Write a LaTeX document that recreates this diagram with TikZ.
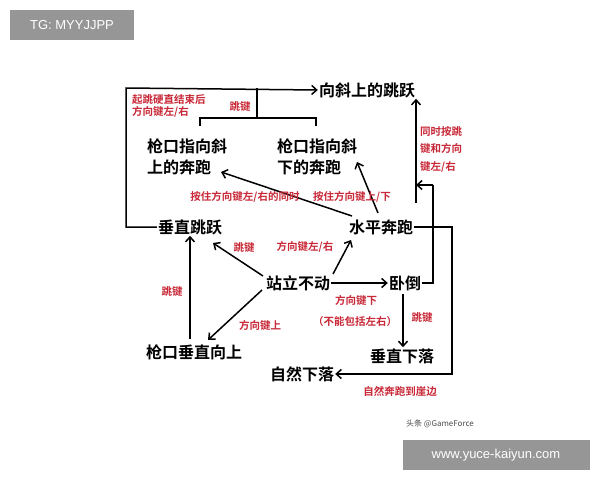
\documentclass[tikz,border=0pt]{standalone}
\usepackage{fontspec}
\newfontfamily\cjk{Noto Sans CJK SC}[BoldFont={Noto Sans CJK SC Bold}]
\setmainfont{Liberation Sans}
\definecolor{lred}{RGB}{200,40,55}
\definecolor{wm}{RGB}{150,150,150}
\begin{document}
\begin{tikzpicture}[x=1pt,y=-1pt,
 st/.style={font=\cjk\bfseries\fontsize{16}{18}\selectfont,inner sep=1pt},
 lb/.style={font=\cjk\bfseries\fontsize{10.5}{12.5}\selectfont,text=lred,inner sep=1pt},
 ar/.style={->,line width=1.5pt,>={Straight Barb[length=5pt,width=9pt]}},
 ln/.style={line width=1.5pt}]
\usetikzlibrary{arrows.meta}
\useasboundingbox (0,0) rectangle (600,480);
\fill[white] (0,0) rectangle (600,480);
\node[fill=wm,text=white,font=\fontsize{13}{15}\selectfont,minimum width=124pt,minimum height=30pt,inner sep=0pt] (tg) at (72,25) {TG: MYYJJPP};
\node[fill=wm,text=white,font=\fontsize{13}{15}\selectfont,minimum width=187pt,minimum height=30pt,inner sep=0pt] (web) at (496,455) {www.yuce-kaiyun.com};
\node[font=\cjk\fontsize{8}{10}\selectfont,text=black!70] (src) at (440,424) {头条 @GameForce};

\node[st] (xs) at (367,90) {向斜上的跳跃};
\node[st,align=left] (up) at (187,157) {枪口指向斜\\[3pt]上的奔跑};
\node[st,align=left] (dn) at (317,157) {枪口指向斜\\[3pt]下的奔跑};
\node[st] (cz) at (190,227) {垂直跳跃};
\node[st] (sp) at (381,227) {水平奔跑};
\node[st] (zl) at (298,283) {站立不动};
\node[st] (wd) at (405,283) {卧倒};
\node[st] (qk) at (194,352) {枪口垂直向上};
\node[st] (cx) at (402,356) {垂直下落};
\node[st] (zr) at (302,374) {自然下落};

\coordinate (b1) at (257,118);
\coordinate (r1) at (433,185);
\coordinate (r2) at (416,185);
\coordinate (r3) at (416,203);

\draw[ar] (cz.west) -| (126,88) -- (xs.west);
\draw[ln] (257,88) -- (b1);
\draw[ln] (200,126) |- (316,118) -- (316,126);
\node[lb] (l1) at (240,107) {跳键};
\node[lb,align=left,anchor=west] (l2) at (131,106) {起跳硬直结束后\\方向键左/右};

\draw[ln] (wd.east) -- (433,283) -- (r1);
\draw[ar] (r1) -- (r2);
\draw[ar] (r3) -- (xs.south -| r3);
\node[lb,align=left,anchor=west] (l3) at (419,149) {同时按跳\\[5pt]键和方向\\[5pt]键左/右};

\draw[ar] (sp.east) -- (452,227) |- (zr.east);
\node[lb] (l4) at (400,392) {自然奔跑到崖边};

\draw[ar] (352,216) -- (221,172);
\draw[ar] (378,213) -- (357,162);
\node[lb] (l5) at (245,197) {按住方向键左/右的同时};
\node[lb] (l6) at (352,197) {按住方向键上/下};

\draw[ar] (263,276) -- (213,243);
\node[lb] (l7) at (244,248) {跳键};
\draw[ar] (333,274) -- (351,240);
\node[lb] (l8) at (305,247) {方向键左/右};
\draw[ar] (zl.east) -- (wd.west);
\draw[ar] (262,290) -- (208,340);
\node[lb] (l9) at (260,325) {方向键上};
\draw[ar] (190,339) -- (cz.south -| 190,0);
\node[lb] (l10) at (172,292) {跳键};
\draw[ar] (403,294) -- (cx.north -| 403,0);
\node[lb] (l11) at (422,318) {跳键};
\node[lb] (l12) at (356,300) {方向键下};
\node[lb] (l13) at (355,322) {（不能包括左右）};
\end{tikzpicture}
\end{document}
